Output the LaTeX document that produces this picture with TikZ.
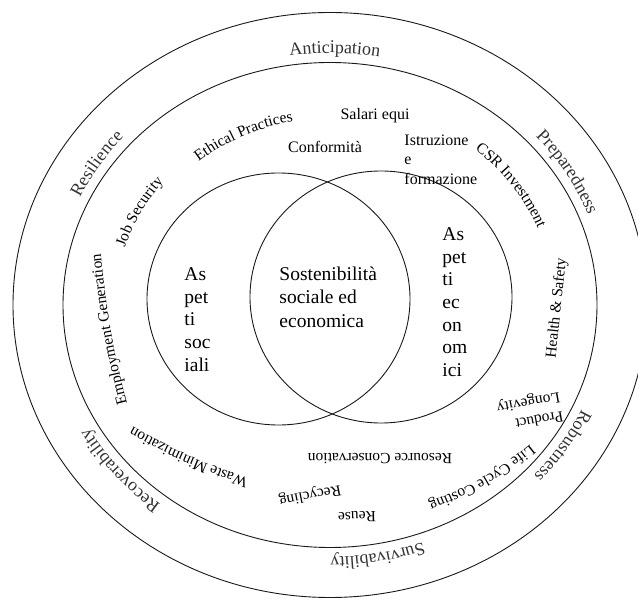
\documentclass[tikz,border=0pt]{standalone}
\usepackage{fontspec}
\setmainfont{Liberation Serif}
\usetikzlibrary{decorations.text,calc}

\newcommand\bandfont{\fontsize{18}{20}\selectfont}
\newcommand\itemfont{\fontsize{15.5}{19}\selectfont}
\newcommand\vennfont{\fontsize{19.5}{22.7}\selectfont}

% text set along a clockwise elliptic arc round (C):
% #1 colour, #2 x radius, #3 y radius, #4 start angle, #5 end angle, #6 text
\newcommand\ringlabel[6]{%
  \path[decorate, decoration={text along path, text align=center,
      text color=#1, text={#6}}]
    ($(C)+(#4:#2 and #3)$) arc[start angle=#4, end angle=#5,
      x radius=#2, y radius=#3];}

% text set along a gently bent line: #1 start, #2 end, #3 bend, #4 text
\newcommand\bentlabel[4]{%
  \path[decorate, decoration={text along path, text align=center,
      text={#4}}] #1 to[bend left=#3] #2;}

\begin{document}
\begin{tikzpicture}[x=1pt, y=1pt, line width=0.9pt,
  ring/.style={draw=black!90},
  item/.style={font=\itemfont, inner sep=0pt},
  venn/.style={font=\vennfont, inner sep=0pt, align=left, anchor=north west}]
\useasboundingbox (0,0) rectangle (638,600);
\clip (0,0) rectangle (638,600);
\coordinate (C) at (330,295);

% rings
\draw[ring] (C) ellipse [x radius=317pt, y radius=292.5pt];
\draw[ring] (C) ellipse [x radius=267pt, y radius=242.5pt];

% Venn circles
\draw[ring] (278.5,301) ellipse [x radius=131.5pt, y radius=126pt];
\draw[ring] (381,303) ellipse [x radius=131pt, y radius=126pt];

% outer band
\ringlabel{black!80}{276.5pt}{252pt}{117}{61}{|\bandfont|Anticipation}
\ringlabel{black!80}{276.5pt}{252pt}{59}{3}{|\bandfont|Preparedness}
\ringlabel{black!80}{276.5pt}{252pt}{-5}{-61}{|\bandfont|Robustness}
\ringlabel{black!80}{276.5pt}{252pt}{-52}{-108}{|\bandfont|Survivability}
\ringlabel{black!80}{276.5pt}{252pt}{248.2}{192.2}{|\bandfont|Recoverability}
\ringlabel{black!80}{276.5pt}{252pt}{175}{119}{|\bandfont|Resilience}

% inner band, curved labels
\ringlabel{black}{205pt}{186.5pt}{143.4}{87.4}{|\itemfont|Ethical Practices}
\ringlabel{black}{214.5pt}{195pt}{180.3}{124.3}{|\itemfont|Job Security}
\ringlabel{black}{224pt}{204pt}{70.1}{0.1}{|\itemfont|CSR Investment}
\bentlabel{(130,185)}{(100,358)}{5}{|\itemfont|Employment Generation}
\bentlabel{(256,119)}{(126,177)}{6}{|\itemfont|Waste Minimization}
\bentlabel{(538,162)}{(419,94)}{10}{|\itemfont|Life Cycle Costing}

% inner band, straight labels
\node[item] (hs) at (557,292) [rotate=84] {Health \& Safety};
\node[item, align=left] (pl) at (530,189) [rotate=190] {Product\\Longevity};
\node[item] (rc) at (380,141) [rotate=180] {Resource Conservation};
\node[item] (ru) at (357,83) [rotate=181] {Reuse};
\node[item] (ry) at (310,105) [rotate=191] {Recycling};
\node[item, font=\fontsize{16}{19.5}\selectfont] (se) at (375,484) {Salari equi};
\node[item, font=\fontsize{16}{19.5}\selectfont] (co) at (325,453) {Conformità};
\node[item, font=\fontsize{16}{19.5}\selectfont, align=left, anchor=north west]
  (if) at (404,466) {Istruzione\\e\\formazione};

% Venn texts
\node[venn] (ss) at (184,333) {As\\pet\\ti\\soc\\iali};
\node[venn, font=\fontsize{19.5}{23.7}\selectfont] (sm) at (279,334)
  {Sostenibilità\\sociale ed\\economica};
\node[venn] (se2) at (442,373) {As\\pet\\ti\\ec\\on\\om\\ici};
\end{tikzpicture}
\end{document}
